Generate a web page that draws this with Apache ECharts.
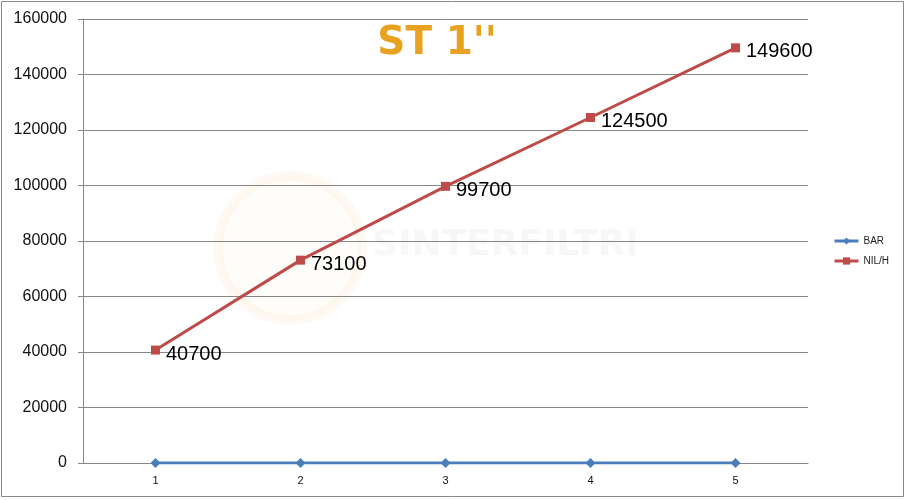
<!DOCTYPE html>
<html>
<head>
<meta charset="utf-8">
<script src="https://cdn.jsdelivr.net/npm/echarts@6/dist/echarts.min.js"></script>
<style>
html,body{margin:0;padding:0;background:#fff;}
#c{width:906px;height:500px;}
</style>
</head>
<body>
<div id="c"></div>
<script>
var categories = ['1', '2', '3', '4', '5'];
var barValues = [0, 0, 0, 0, 0];
var nilValues = [40700, 73100, 99700, 124500, 149600];
var yTicks = [0, 20000, 40000, 60000, 80000, 100000, 120000, 140000, 160000];

var chart = echarts.init(document.getElementById('c'));
chart.setOption({
  backgroundColor: '#fff',
  animation: false,
  title: {
    text: "ST 1''",
    left: 432, top: 19, textAlign: 'center',
    textStyle: { color: '#E9A21F', fontSize: 39, fontWeight: 'bold', fontFamily: 'DejaVu Sans' }
  },
  graphic: [
    { type: 'rect', shape: { x: 1.5, y: 1.5, width: 902, height: 495 }, style: { fill: 'none', stroke: '#8a8a8a', lineWidth: 1 }, z: 100 },
    { type: 'circle', shape: { cx: 290, cy: 248, r: 72 }, style: { fill: 'rgba(250,215,160,0.06)', stroke: 'rgba(245,200,140,0.10)', lineWidth: 10 }, z: 0 },
    { type: 'text', left: 372, top: 228, style: { text: 'SINTERFILTRI', fill: 'rgba(120,120,140,0.06)', font: 'bold 36px "DejaVu Sans"' }, z: 0 }
  ],
  legend: {
    orient: 'vertical',
    left: 828, top: 231,
    itemGap: 10,
    itemWidth: 24, itemHeight: 9,
    lineStyle: { width: 3 },
    textStyle: { fontSize: 10, color: '#222', fontFamily: 'Liberation Sans' },
    data: ['BAR', 'NIL/H']
  },
  grid: { left: 83, right: 98, top: 19, bottom: 37, containLabel: false },
  xAxis: {
    type: 'category',
    data: categories,
    boundaryGap: true,
    axisLine: { lineStyle: { color: '#868686', width: 1 } },
    axisTick: { show: false },
    axisLabel: { color: '#111', fontSize: 11, margin: 12, fontFamily: 'Liberation Sans' },
    splitLine: { show: false }
  },
  yAxis: {
    type: 'value',
    min: yTicks[0], max: yTicks[yTicks.length - 1], interval: 20000,
    axisLine: { show: true, lineStyle: { color: '#868686' } },
    axisTick: { show: true, length: 5, lineStyle: { color: '#868686' } },
    axisLabel: { color: '#111', fontSize: 16, margin: 16, fontFamily: 'Liberation Sans', formatter: function (v) { return String(v); } },
    splitLine: { show: true, lineStyle: { color: '#868686', width: 1 } }
  },
  series: [
    {
      name: 'BAR', type: 'line', data: barValues,
      symbol: 'diamond', symbolSize: 10,
      lineStyle: { color: '#4A7EBB', width: 3 },
      itemStyle: { color: '#4A7EBB' },
      z: 3
    },
    {
      name: 'NIL/H', type: 'line', data: nilValues,
      symbol: 'rect', symbolSize: 9,
      lineStyle: { color: '#BE4B48', width: 3 },
      itemStyle: { color: '#BE4B48' },
      label: { show: true, position: 'right', distance: 6, offset: [0, 4], color: '#000', fontSize: 20, fontFamily: 'Liberation Sans' },
      z: 4
    }
  ]
});
</script>
</body>
</html>
